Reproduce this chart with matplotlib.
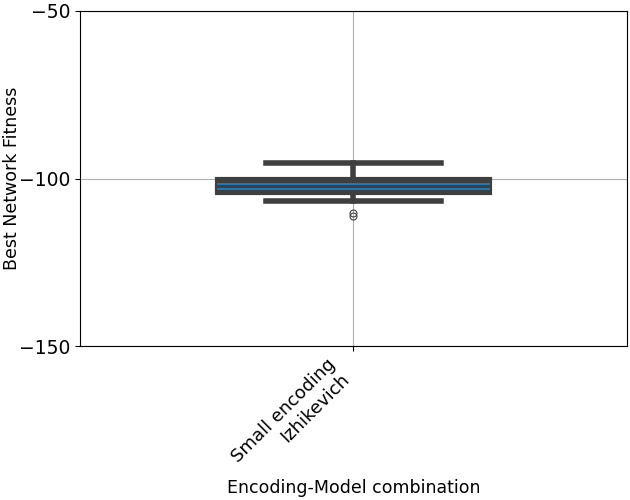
import matplotlib
matplotlib.use("Agg")
import matplotlib.pyplot as plt

categories = ["Small encoding\nIzhikevich"]
q1 = [-104.3]
q3 = [-100.2]
medians = [-101.6]
means = [-103.2]
whisker_low = [-106.8]
whisker_high = [-95.3]
fliers = [[-110.3, -111.2]]

fig = plt.figure(figsize=(6.3, 5), dpi=100)
ax = fig.add_axes([0.127, 0.308, 0.868, 0.67])

stats = []
for i in range(len(categories)):
    stats.append(dict(q1=q1[i], q3=q3[i], med=medians[i], mean=means[i],
                      whislo=whisker_low[i], whishi=whisker_high[i],
                      fliers=fliers[i], label=categories[i]))

dark = "#3f3f3f"
ax.bxp(stats, positions=list(range(len(categories))), widths=0.5, capwidths=0.32,
       patch_artist=True, showmeans=True, meanline=True,
       boxprops=dict(facecolor=dark, edgecolor=dark, linewidth=3),
       whiskerprops=dict(color=dark, linewidth=4),
       capprops=dict(color=dark, linewidth=4),
       medianprops=dict(color="#1f77b4", linewidth=1.5),
       meanprops=dict(color="#1f77b4", linewidth=1.5, linestyle="-"),
       flierprops=dict(marker="o", markerfacecolor="none", markeredgecolor=dark,
                       markersize=5, markeredgewidth=0.8))

ax.set_xlim(-0.5, 0.5)
ax.set_ylim(-150, -50)
ax.set_yticks([-150, -100, -50])
ax.set_xticks(range(len(categories)))
ax.set_xticklabels(categories, rotation=45, ha="right", fontsize=13)
ax.tick_params(axis="y", labelsize=13.5)
ax.grid(True, color="#b0b0b0", linewidth=0.8)
ax.set_axisbelow(True)
ax.set_ylabel("Best Network Fitness", fontsize=12.5)
ax.yaxis.set_label_coords(-0.108, 0.5)
ax.set_xlabel("Encoding-Model combination", fontsize=12.5)
ax.xaxis.set_label_coords(0.5, -0.398)

fig.savefig("out.png", dpi=100)
